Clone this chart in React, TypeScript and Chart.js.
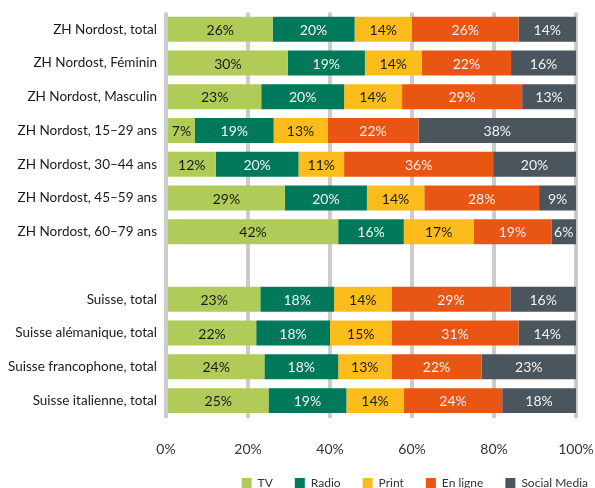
import React, { useEffect, useRef } from "react";
import { Chart, registerables } from "chart.js";

Chart.register(...registerables);

const categories = [
  "ZH Nordost, total",
  "ZH Nordost, Féminin",
  "ZH Nordost, Masculin",
  "ZH Nordost, 15–29 ans",
  "ZH Nordost, 30–44 ans",
  "ZH Nordost, 45–59 ans",
  "ZH Nordost, 60–79 ans",
  "",
  "Suisse, total",
  "Suisse alémanique, total",
  "Suisse francophone, total",
  "Suisse italienne, total",
];
const tv = [26, 30, 23, 7, 12, 29, 42, null, 23, 22, 24, 25];
const radio = [20, 19, 20, 19, 20, 20, 16, null, 18, 18, 18, 19];
const print = [14, 14, 14, 13, 11, 14, 17, null, 14, 15, 13, 14];
const online = [26, 22, 29, 22, 36, 28, 19, null, 29, 31, 22, 24];
const social = [14, 16, 13, 38, 20, 9, 6, null, 16, 14, 23, 18];
const seriesNames = ["TV", "Radio", "Print", "En ligne", "Social Media"];
const xTicks = [0, 20, 40, 60, 80, 100];

const colors = ["#b0cb58", "#00785a", "#fbbc1c", "#e95513", "#4a555e"];
const textColors = ["#1a1a1a", "#f4f4f4", "#1a1a1a", "#f4f4f4", "#f4f4f4"];
const FONT = "Lato, 'Open Sans', sans-serif";

const raw = [tv, radio, print, online, social];

const rowSums = categories.map((_, i) =>
  raw.reduce((s, arr) => s + (arr[i] == null ? 0 : (arr[i] as number)), 0)
);

const segmentLabels = {
  id: "segmentLabels",
  afterDatasetsDraw(chart: any) {
    const ctx = chart.ctx;
    ctx.save();
    ctx.font = `14px ${FONT}`;
    ctx.textAlign = "center";
    ctx.textBaseline = "middle";
    chart.data.datasets.forEach((ds: any, di: number) => {
      const meta = chart.getDatasetMeta(di);
      meta.data.forEach((el: any, i: number) => {
        const v = raw[di][i];
        if (v == null) return;
        const p = el.getProps(["x", "y", "base"], true);
        ctx.fillStyle = textColors[di];
        ctx.fillText(`${v}%`, (p.x + p.base) / 2, p.y + 1);
      });
    });
    ctx.restore();
  },
};

export default function App() {
  const ref = useRef<HTMLCanvasElement | null>(null);
  useEffect(() => {
    if (!ref.current) return;
    const chart = new Chart(ref.current, {
      type: "bar",
      data: {
        labels: categories,
        datasets: raw.map((arr, di) => ({
          label: seriesNames[di],
          data: arr.map((v, i) => (v == null ? null : (v / rowSums[i]) * 100)),
          backgroundColor: colors[di],
          borderWidth: 0,
          barPercentage: 0.74,
          categoryPercentage: 1,
        })),
      },
      options: {
        indexAxis: "y",
        animation: false,
        responsive: false,
        layout: { padding: { left: 0, right: -15, top: 12.4, bottom: -11 } },
        scales: {
          x: {
            stacked: true,
            min: 0,
            max: 100,
            afterBuildTicks: (scale: any) => {
              scale.ticks = xTicks.map((v) => ({ value: v }));
            },
            afterFit: (scale: any) => {
              scale.height = 37.5;
              scale.paddingLeft = 0;
              scale.paddingRight = 19;
            },
            ticks: {
              callback: (v: any) => `${v}%`,
              font: { size: 14, family: FONT },
              color: "#333333",
              padding: 23.5,
              maxRotation: 0,
            },
            grid: {
              color: "#cccccc",
              lineWidth: 4,
              drawTicks: false,
            },
            border: { display: false },
          },
          y: {
            stacked: true,
            afterFit: (scale: any) => {
              scale.width = 166;
              scale.paddingTop = 0;
              scale.paddingBottom = 0;
            },
            ticks: {
              font: { size: 13.5, family: FONT },
              color: "#1a1a1a",
              padding: 9,
            },
            grid: { display: false, drawTicks: false },
            border: { display: false },
          },
        },
        plugins: {
          legend: {
            position: "bottom",
            align: "end",
            labels: {
              boxWidth: 10,
              boxHeight: 10,
              padding: 22,
              color: "#333333",
              font: { size: 12, family: FONT },
            },
          },
          tooltip: { enabled: false },
        },
      },
      plugins: [segmentLabels],
    });
    return () => chart.destroy();
  }, []);
  return (
    <div style={{ position: "absolute", left: 0, top: 0, width: 595, height: 488 }}>
      <canvas ref={ref} width={595} height={488} style={{ width: 595, height: 488 }} />
    </div>
  );
}
